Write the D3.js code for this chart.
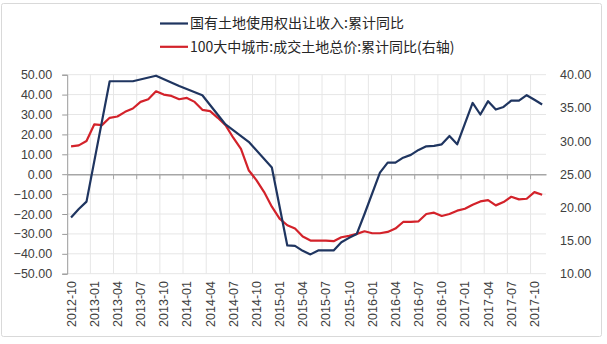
<!DOCTYPE html>
<html><head><meta charset="utf-8">
<script src="https://cdn.jsdelivr.net/npm/d3@7"></script>
<style>
html,body{margin:0;padding:0;background:#fff;}
text{font-family:"Liberation Sans","Noto Sans CJK SC",sans-serif;}
</style></head>
<body><svg id="c" width="607" height="344"></svg>
<script>
// ---- data ----
const months = (function(){const a=[];let y=2012,m=10;for(let i=0;i<62;i++){a.push(y+"-"+String(m).padStart(2,"0"));m++;if(m>12){m=1;y++;}}return a;})();
const seriesNames = ["国有土地使用权出让收入:累计同比","100大中城市:成交土地总价:累计同比(右轴)"];
// 国有土地使用权出让收入:累计同比 (left axis), null = no data that month
const landRevenue = [-21.7,-17.5,-13.8,null,null,46.7,null,null,46.7,null,null,49.5,
  null,null,44.3,null,null,39.7,null,null,25.0,null,null,16.3,null,null,3.4,null,
  -35.8,-36.0,-38.5,-40.3,-38.3,-38.3,-38.3,-34.2,-32.0,-30.0,-20.0,null,
  0.8,5.8,5.8,8.3,9.7,12.2,14.0,14.2,15.0,19.2,15.0,null,
  35.8,30.0,36.7,32.5,33.8,37.0,37.0,39.7,37.4,35.0];
// 100大中城市:成交土地总价:累计同比 (right axis)
const landPrice = [29.2,29.35,30.0,32.5,32.4,33.5,33.7,34.4,34.9,35.9,36.3,37.5,
  37.0,36.8,36.3,36.5,35.9,34.7,34.5,33.5,32.4,30.5,28.8,25.6,24.1,22.3,20.1,18.3,
  17.3,16.8,15.6,15.0,15.0,15.0,14.9,15.5,15.7,16.0,16.4,16.1,16.1,16.3,16.8,17.8,
  17.8,17.9,19.0,19.2,18.7,19.0,19.5,19.8,20.4,20.9,21.1,20.3,20.8,21.6,21.2,21.3,
  22.3,21.9];
const leftTicks = [50,40,30,20,10,0,-10,-20,-30,-40,-50];
const rightTicks = [40,35,30,25,20,15,10];
const labelStep = 3;

// ---- chart ----
const svg = d3.select("#c");
const colors = ["#1f3560","#d3222a"];
const plot = {l:67.2, r:546, t:74.7, b:273.7};

svg.append("rect").attr("x",1.5).attr("y",3.5).attr("width",600).attr("height",333)
  .attr("fill","none").attr("stroke","#d9d9d9").attr("stroke-width",1).attr("rx",2);

const x = d3.scaleBand().domain(months).range([plot.l, plot.r]).padding(0);
const bw = x.bandwidth();
const cx = d => x(d) + bw/2;
const yL = d3.scaleLinear().domain([-50,50]).range([plot.b, plot.t]);
const yR = d3.scaleLinear().domain([10,40]).range([plot.b, plot.t]);

// horizontal gridlines
svg.append("g").selectAll("line").data(leftTicks.filter(v=>v!==0)).join("line")
  .attr("x1",plot.l).attr("x2",plot.r).attr("y1",d=>yL(d)).attr("y2",d=>yL(d))
  .attr("stroke","#e6e6e6").attr("stroke-width",1);
// vertical gridlines at every 3rd category boundary
const bounds = d3.range(labelStep, months.length, labelStep);
svg.append("g").selectAll("line").data(bounds).join("line")
  .attr("x1",d=>plot.l+d*bw).attr("x2",d=>plot.l+d*bw).attr("y1",plot.t).attr("y2",plot.b)
  .attr("stroke","#e6e6e6").attr("stroke-width",1);

// left axis
const gl = svg.append("g").attr("transform",`translate(${plot.l},0)`)
  .call(d3.axisLeft(yL).tickValues(leftTicks).tickFormat(d3.format(".2f")).tickSize(5).tickPadding(10));
gl.select(".domain").attr("stroke","#9a9a9a");
gl.selectAll(".tick line").attr("stroke","#9a9a9a");
gl.selectAll("text").attr("font-size","12.5px").attr("fill","#404040");

// right axis (labels only)
const gr = svg.append("g").attr("transform",`translate(${plot.r+14},0)`)
  .call(d3.axisRight(yR).tickValues(rightTicks).tickFormat(d3.format(".2f")).tickSize(0).tickPadding(0));
gr.select(".domain").remove();
gr.selectAll("text").attr("font-size","12.5px").attr("fill","#404040");

// zero line (category axis) with ticks
const g0 = svg.append("g").attr("transform",`translate(0,${yL(0)})`)
  .call(d3.axisBottom(x).tickValues([]).tickSizeOuter(0));
g0.select(".domain").attr("stroke","#a6a6a6").attr("stroke-width",1.5);
g0.selectAll(".bt").data(bounds).join("line").attr("class","bt")
  .attr("x1",d=>plot.l+d*bw).attr("x2",d=>plot.l+d*bw).attr("y1",0).attr("y2",5)
  .attr("stroke","#a6a6a6");

// category labels at bottom (rotated)
const labelMonths = months.filter((d,i)=>i%labelStep===0);
svg.append("g").selectAll("text").data(labelMonths).join("text")
  .attr("transform",d=>`translate(${cx(d)+4.5},281) rotate(-90)`)
  .attr("text-anchor","end").attr("font-size","12.5px").attr("fill","#404040").text(d=>d);

// lines
const pts1 = months.map((m,i)=>({m,v:landRevenue[i]})).filter(d=>d.v!==null);
const pts2 = months.map((m,i)=>({m,v:landPrice[i]})).filter(d=>d.v!==null);
svg.append("path").datum(pts2).attr("fill","none").attr("stroke",colors[1]).attr("stroke-width",2.2)
  .attr("stroke-linejoin","round").attr("d",d3.line().x(d=>cx(d.m)).y(d=>yR(d.v)));
svg.append("path").datum(pts1).attr("fill","none").attr("stroke",colors[0]).attr("stroke-width",2.2)
  .attr("stroke-linejoin","round").attr("d",d3.line().x(d=>cx(d.m)).y(d=>yL(d.v)));

// legend
const lg = svg.append("g");
seriesNames.forEach((n,i)=>{
  const yy = 23.5 + i*23.3;
  lg.append("line").attr("x1",160).attr("x2",188).attr("y1",yy).attr("y2",yy)
    .attr("stroke",colors[i]).attr("stroke-width",2.2);
  lg.append("text").attr("x",190).attr("y",yy).attr("dy","0.35em")
    .attr("font-size","14px").attr("fill","#262626")
    .style("font-family","'Noto Sans CJK SC',sans-serif").text(n);
});
</script></body></html>
